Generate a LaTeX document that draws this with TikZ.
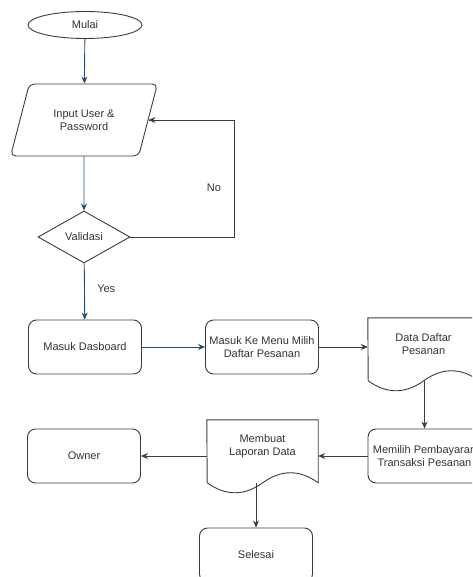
\documentclass[tikz,border=0pt]{standalone}
\usepackage{fontspec}
\setmainfont{Liberation Sans}
\usetikzlibrary{shapes.geometric,arrows.meta}
\definecolor{flowblue}{HTML}{1F4E79}
\definecolor{linegray}{HTML}{3C3C3C}
\def\boxw{113}
\def\boxh{54}
\def\docw{111}
% Document outline with a wavy bottom.
\newcommand{\docpath}[1]{%
  \draw[box] (#1.north west) -- (#1.north east) -- ++(0,63)
    .. controls +(-18.5,-13.4) and +(18.5,-13.4) .. ++(-55.5,0)
    .. controls +(-18.5,13.3) and +(18.5,13.3) .. ++(-55.5,0) -- cycle;
  \path (#1.north) ++(0,63) coordinate (#1-b);
}

\begin{document}
\begin{tikzpicture}[x=1pt, y=-1pt,
    every node/.style={font=\fontsize{11}{13}\selectfont, text=black!80, align=center},
    box/.style={draw=linegray, line width=0.9pt},
    term/.style={box, ellipse, minimum width=114, minimum height=27, inner sep=0},
    io/.style={box, trapezium, trapezium left angle=67, trapezium right angle=113,
      trapezium stretches=true, minimum width=148, minimum height=72, rounded corners=5pt},
    decide/.style={box, diamond, aspect=1.77, minimum width=92, minimum height=52, inner sep=0},
    proc/.style={box, rounded corners=8pt, minimum width=\boxw, minimum height=\boxh, inner sep=1pt},
    doc/.style={minimum width=\docw, minimum height=52, inner sep=0},
    flowarr/.style={draw=flowblue, line width=0.9pt, -{Stealth[length=7pt, width=6pt]}},
    plainarr/.style={draw=linegray, line width=0.9pt, -{Stealth[length=7pt, width=6pt]}}]
    \useasboundingbox (0,0) rectangle (472,577);
    \clip (0,0) rectangle (472,577);
    % Left column.
    \node[term] (start) at (85,25) {Mulai};
    \node[io] (inp) at (84,120) {Input User \&\\Password};
    \node[decide] (val) at (84,237) {Validasi};
    \node[proc] (dash) at (85,347) {Masuk Dasboard};
    % Middle and right.
    \node[proc] (menu) at (262,347) {Masuk Ke Menu Milih\\Daftar Pesanan};
    \node[doc] (list) at (423.5,344) {Data Daftar\\Pesanan};
    \node[proc] (pay) at (424.5,456) {Memilih Pembayaran\\Transaksi Pesanan};
    \node[doc] (rep) at (262.5,446) {Membuat\\Laporan Data};
    \node[proc] (own) at (84,456) {Owner};
    \node[proc] (fin) at (256,555) {Selesai};
    \docpath{list}
    \docpath{rep}
    % Flow.
    \draw[flowarr] (start) -- (inp);
    \draw[flowarr] (inp) -- (val);
    \draw[flowarr] (val) -- (dash) node[pos=0.45, anchor=west, xshift=9pt] {Yes};
    \draw[flowarr] (dash) -- (menu);
    \draw[plainarr] (menu.east) -- (menu.east -| list.west);
    \draw[plainarr] (list-b -| pay.north) -- (pay.north);
    \draw[plainarr] (pay.west) -- (pay.west -| rep.east);
    \draw[plainarr] (rep.west |- own) -- (own.east);
    \draw[plainarr] (rep-b -| fin.north) -- (fin.north);
    % Back to input.
    \coordinate (turn) at (234,237);
    \draw[box] (val.east) -- (turn) |- (inp.east);
    \draw[plainarr] (turn |- inp.east) -- (inp.east);
    \node (no) at (214,188) {No};
\end{tikzpicture}
\end{document}
